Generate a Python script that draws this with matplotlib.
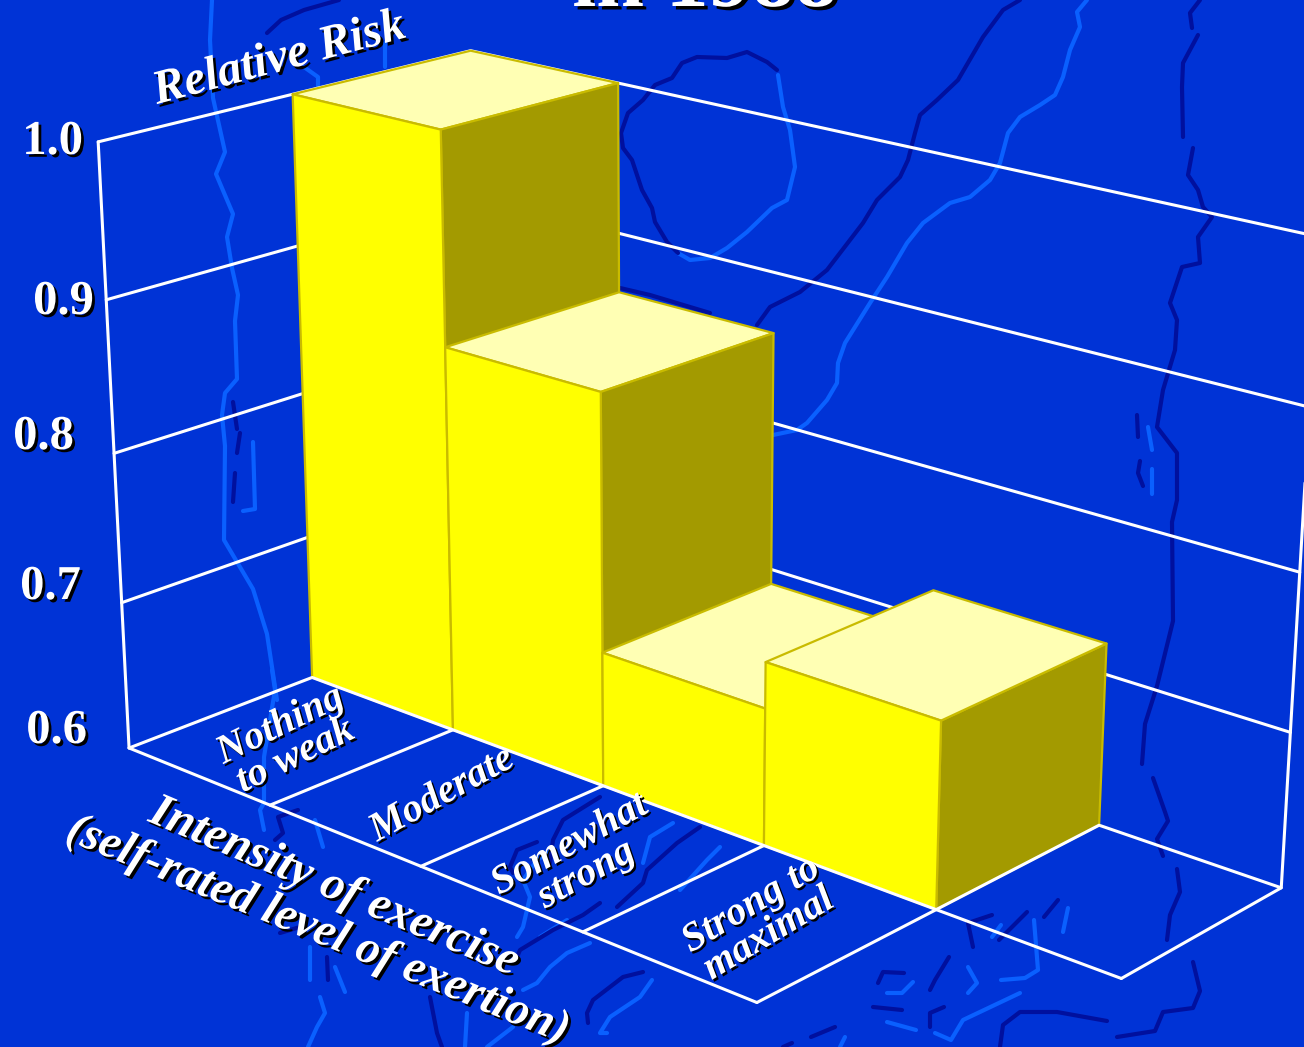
import numpy as np
import matplotlib
matplotlib.use("Agg")
import matplotlib.pyplot as plt
import matplotlib.patheffects as pe
from mpl_toolkits.mplot3d.art3d import Line3DCollection

W, H = 1304, 1047
BLUE = "#0033d6"
COAST_LIGHT = "#0a60ff"
COAST_DARK = "#00109e"

categories = ["Nothing\nto weak", "Moderate", "Somewhat\nstrong", "Strong to\nmaximal"]
relative_risk = [1.0, 0.86, 0.69, 0.72]
risk_ticks = [0.6, 0.7, 0.8, 0.9, 1.0]
risk_labels = ["0.6", "0.7", "0.8", "0.9", "1.0"]

# map outline behind the chart, in pixels from the top left
light_lines = [
    [(678,253),(690,260),(710,258),(727,248),(747,232),(772,208),(787,200),(795,167),(790,130),(783,107),(778,75)],
    [(1087,0),(1077,12),(1080,27),(1070,50),(1063,77),(1055,95),(1040,105),(1020,117),(1008,133),(1000,163),(990,180),
     (970,197),(950,203),(923,223),(907,243),(887,277),(870,303),(845,343),(838,363),(837,383),(827,400),(807,423),(797,430),(773,435)],
    [(212,0),(210,40),(213,98),(225,152),(216,174),(233,214),(227,237),(232,268),(238,295),(235,321),(237,379),(225,393),
     (222,415),(225,446),(224,540),(253,589),(267,634),(277,700)],
    [(253,442),(255,509),(243,511)],
    [(304,67),(318,77),(318,87)],
    [(385,43),(385,67)],
    [(272,670),(275,690),(264,757),(264,803),(260,810),(264,830)],
    [(315,820),(323,847)],
    [(310,947),(310,980)],
    [(335,967),(345,992)],
    [(320,997),(325,1013),(317,1027),(308,1047)],
    [(553,850),(537,860),(523,880),(530,897),(523,927),(517,937)],
    [(590,943),(567,953),(550,967),(537,983),(523,990)],
    [(567,920),(540,937)],
    [(652,980),(640,997),(610,1017),(600,1033),(607,1033)],
    [(673,823),(650,837),(643,863)],
    [(720,847),(707,860),(680,890)],
    [(467,1013),(465,1047)],
    [(487,1047),(513,1027)],
    [(1148,427),(1152,450)],
    [(1152,469),(1152,494)],
    [(1068,908),(1063,932)],
    [(1001,925),(992,937)],
    [(1034,920),(1038,970),(1025,978),(1001,980)],
    [(968,967),(977,983),(968,993)],
    [(1020,993),(963,1020),(951,1040),(935,1033)],
    [(913,982),(902,993),(887,993)],
    [(887,1022),(916,1030)],
    [(845,1037),(840,1047)],
]
dark_lines = [
    [(777,70),(767,62),(747,52),(727,58),(697,57),(682,63),(672,78),(655,85),(643,100),(628,113),(621,133),(623,148),
     (632,160),(642,190),(652,208),(655,222),(667,242),(678,253)],
    [(1020,0),(1003,10),(983,37),(958,80),(937,100),(920,115),(915,133),(908,160),(900,177),(877,200),(863,223),(827,270),
     (800,292),(770,307),(757,325)],
    [(620,288),(650,295),(710,313)],
    [(1200,0),(1190,13),(1192,28)],
    [(1198,35),(1183,63),(1182,87),(1183,137)],
    [(1193,148),(1188,175),(1198,190),(1203,207),(1212,217),(1198,237),(1200,263),(1182,267),(1170,303),(1177,320),(1175,350),
     (1163,390),(1157,427),(1177,453),(1177,500),(1172,522),(1173,621),(1157,686),(1145,724),(1142,764)],
    [(1153,778),(1165,812),(1168,821),(1157,839),(1163,856)],
    [(1177,869),(1180,892),(1170,915),(1167,940)],
    [(1193,962),(1200,991),(1193,1008),(1163,1012),(1155,1031),(1117,1037)],
    [(1107,1021),(1057,1012),(1020,1012),(1003,1025),(1000,1047)],
    [(1137,415),(1138,437)],
    [(1140,461),(1138,473),(1143,486)],
    [(233,402),(237,429)],
    [(240,433),(237,453)],
    [(235,473),(233,502)],
    [(267,33),(281,20),(304,10),(339,0)],
    [(298,810),(278,817),(283,833),(275,840)],
    [(280,933),(300,927)],
    [(327,957),(328,980)],
    [(600,797),(563,820),(553,840),(550,863)],
    [(537,842),(517,850),(510,867),(513,873)],
    [(600,903),(583,915),(553,930),(520,950),(517,957)],
    [(643,972),(623,977),(593,1000),(587,1013),(588,1023)],
    [(700,827),(677,843),(647,870),(643,883),(617,907)],
    [(430,997),(437,1033),(442,1047)],
    [(949,957),(935,980),(930,990)],
    [(1058,900),(1044,917)],
    [(1027,912),(999,940)],
    [(992,915),(968,923),(973,947)],
    [(904,973),(883,972),(878,983)],
    [(873,1007),(902,1010)],
    [(944,1007),(930,1013),(930,1027)],
    [(835,1027),(811,1037)],
    [(792,1043),(783,1047)],
]

# camera for the 3d box: x = category, y = depth, z = relative risk
CAMERA = np.array([
    [132.104683, 196.741802, -90.505974, 183.370946],
    [30.713102, -40.889042, -1534.541062, 1668.714969],
    [-0.0328349, 0.0437729, -0.1353722, 1.0812233],
])


def get_proj():
    # image pixels -> the axes' own 2d data coordinates
    (x0, y0), (x1, y1) = ax.transData.inverted().transform([(0, H), (W, 0)])
    to_data = np.array([[(x1 - x0) / W, 0, x0], [0, (y1 - y0) / H, y0], [0, 0, 1]])
    p = to_data @ CAMERA
    # third row only has to keep the matrix invertible, faces are stacked by zorder
    return np.array([p[0], p[1], [0, 1e-3, 0, 0], p[2]])


def shadow(dx=2, dy=-2):
    return [pe.withSimplePatchShadow(offset=(dx, dy), shadow_rgbFace="black", alpha=1.0)]


fig = plt.figure(figsize=(W / 100, H / 100), dpi=100, facecolor=BLUE)

bg = fig.add_axes([0, 0, 1, 1], zorder=0)
bg.set_xlim(0, W)
bg.set_ylim(H, 0)
bg.axis("off")
for line in light_lines:
    xs, ys = zip(*line)
    bg.plot(xs, ys, color=COAST_LIGHT, lw=3, solid_capstyle="round", solid_joinstyle="round")
for line in dark_lines:
    xs, ys = zip(*line)
    bg.plot(xs, ys, color=COAST_DARK, lw=3, solid_capstyle="round", solid_joinstyle="round")

# square axes wide enough that nothing gets clipped at the sides
ax = fig.add_axes([0, (H - W) / 2 / H, 1, W / H], projection="3d", computed_zorder=False, zorder=1)
ax.set_axis_off()
ax.patch.set_facecolor("none")
ax.get_proj = get_proj

base, top = risk_ticks[0], risk_ticks[-1]

# walls and floor, hidden parts get covered by the bars
box = [[(0, 0, t), (0, 2, t), (5, 2, t)] for t in risk_ticks[1:]]
box.append([(0, 0, base), (0, 0, top)])
box.append([(5, 2, base), (5, 2, top)])
box.append([(0, 0, base), (0, 2, base), (5, 2, base), (5, 1, base)])
box.append([(0, 0, base), (4, 0, base)])
box += [[(i, 0, base), (i, 1, base)] for i in range(1, 5)]
ax.add_collection3d(Line3DCollection(box, colors="white", linewidths=2.2, capstyle="round", zorder=1), autolim=False)

TOP = "#ffffb4"
FRONT = "#ffff00"
SIDE = "#a39a00"
EDGE = "#c9bb00"
for i, val in enumerate(relative_risk):
    ax.bar3d(i, 1, base, 1, 1, val - base, shade=False,
             color=["none", TOP, FRONT, "none", "none", SIDE],
             edgecolors=["none", EDGE, EDGE, "none", "none", EDGE],
             linewidths=1.6, zorder=3 + i)

# floor lines that run along the foot of the bars
foot = [[(0, 1, base), (5, 1, base)], [(4, 1, base), (4, 2, base)]]
ax.add_collection3d(Line3DCollection(foot, colors="white", linewidths=2.2, capstyle="round", zorder=8), autolim=False)

lab = fig.add_axes([0, 0, 1, 1], zorder=2)
lab.set_xlim(0, W)
lab.set_ylim(H, 0)
lab.axis("off")
lab.patch.set_visible(False)

SERIF = "Liberation Serif"
tick_anchor = [(87, 731), (81, 587), (74, 437), (94, 302), (83, 142)]
for text, (x, y) in zip(risk_labels, tick_anchor):
    lab.text(x, y, text, family=SERIF, weight="bold", size=35, color="white",
             ha="right", va="center", path_effects=shadow())

lab.text(705, 6, "in 1988", family=SERIF, weight="bold", size=62, color="white",
         ha="center", va="baseline", clip_on=False, path_effects=shadow(2.5, -2.5))
lab.text(279, 59, "Relative Risk", family=SERIF, weight="bold", style="italic", size=34.5,
         color="white", ha="center", va="center", rotation=15, rotation_mode="anchor",
         path_effects=shadow())
lab.text(334, 887, "Intensity of exercise", family=SERIF, weight="bold", style="italic", size=34.5,
         color="white", ha="center", va="center", rotation=-23, rotation_mode="anchor",
         path_effects=shadow())
lab.text(318, 931, "(self-rated level of exertion)", family=SERIF, weight="bold", style="italic", size=34,
         color="white", ha="center", va="center", rotation=-22.3, rotation_mode="anchor",
         path_effects=shadow())

cat_anchor = [(288, 741), (442, 795), (578, 860), (760, 920)]
cat_rot = [26, 29, 29, 31]
for text, (x, y), r in zip(categories, cat_anchor, cat_rot):
    lab.text(x, y, text, family=SERIF, weight="bold", style="italic", size=29, color="white",
             ha="center", va="center", multialignment="center", linespacing=0.9,
             rotation=r, rotation_mode="anchor", path_effects=shadow(1.5, -1.5))

fig.savefig("out.png", dpi=100, facecolor=BLUE)
